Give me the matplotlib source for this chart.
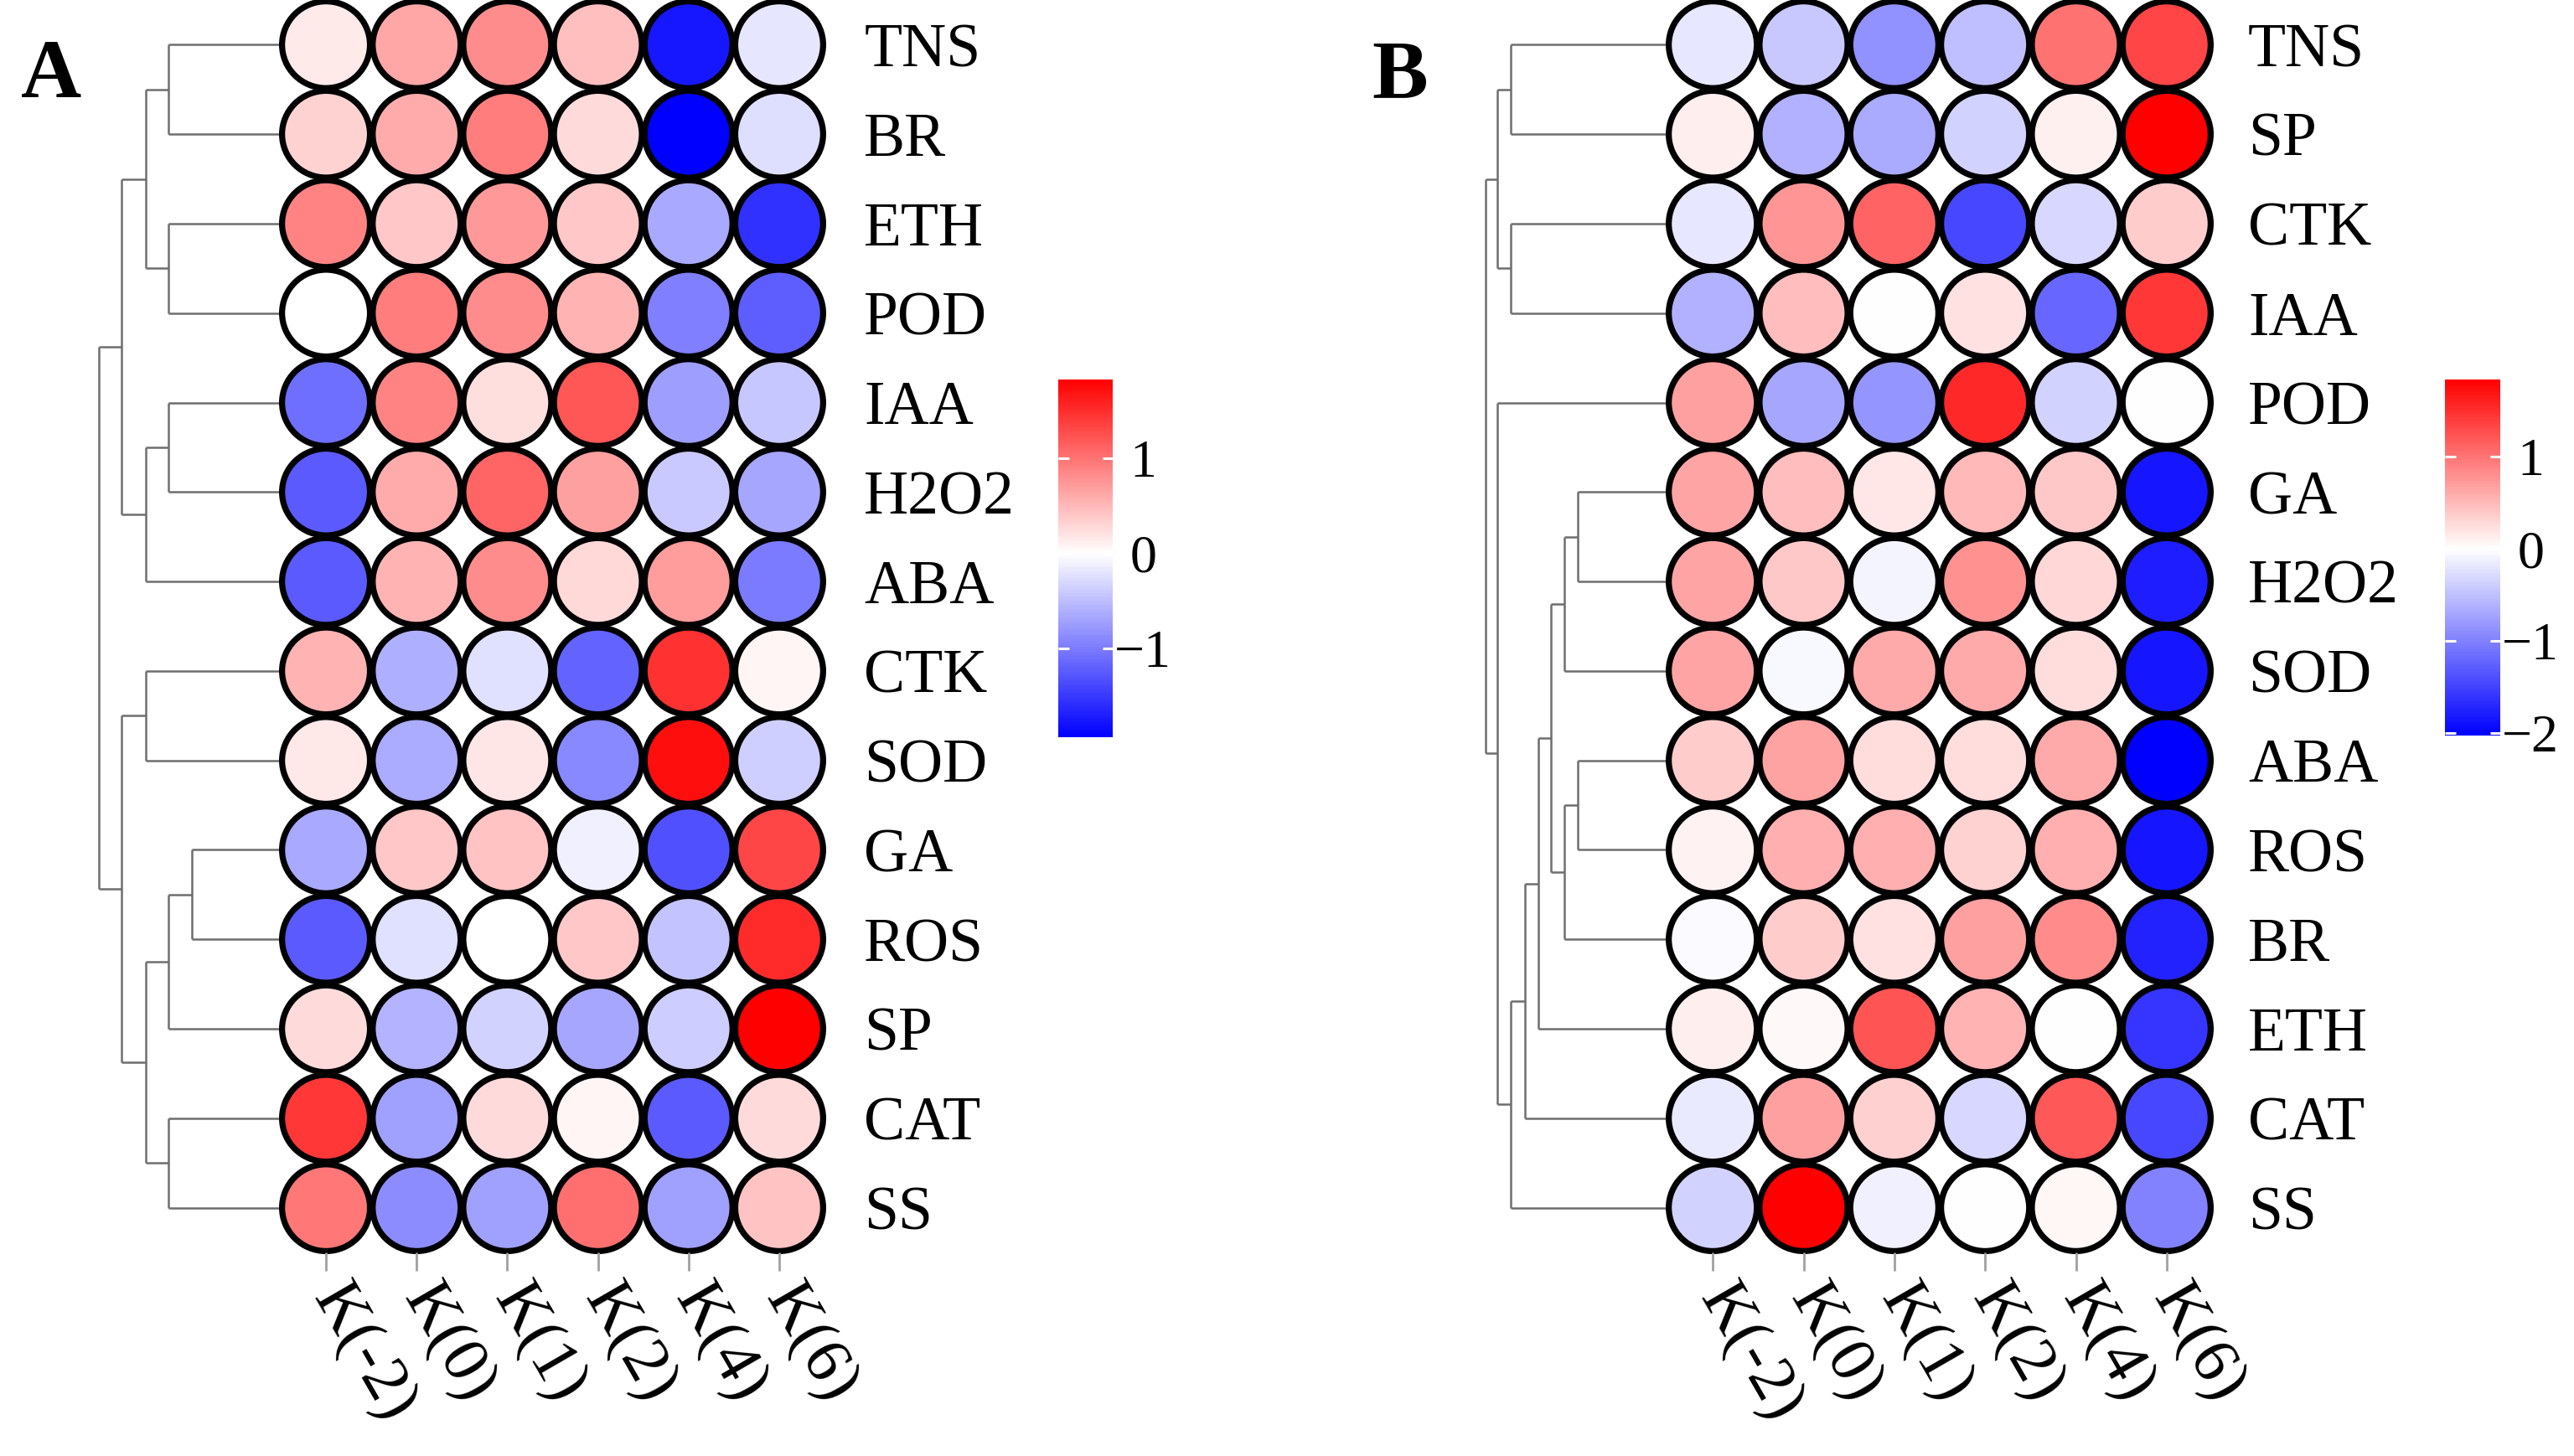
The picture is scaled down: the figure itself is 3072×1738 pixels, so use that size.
import numpy as np
import matplotlib
matplotlib.use('Agg')
import matplotlib.pyplot as plt
from matplotlib.patches import Ellipse
from matplotlib.colors import LinearSegmentedColormap, Normalize
from matplotlib.cm import ScalarMappable

plt.rcParams['font.family'] = ['Liberation Serif', 'DejaVu Serif']

# ---------------- data ----------------
columns = ['K(-2)', 'K(0)', 'K(1)', 'K(2)', 'K(4)', 'K(6)']

rows_a = ['TNS', 'BR', 'ETH', 'POD', 'IAA', 'H2O2', 'ABA',
          'CTK', 'SOD', 'GA', 'ROS', 'SP', 'CAT', 'SS']
values_a = [
    [0.15, 0.64, 0.82, 0.46, -1.75, -0.19],
    [0.33, 0.60, 0.92, 0.27, -1.93, -0.25],
    [0.88, 0.40, 0.73, 0.40, -0.64, -1.55],
    [0.00, 0.92, 0.82, 0.55, -0.97, -1.22],
    [-1.08, 0.88, 0.24, 1.21, -0.74, -0.42],
    [-1.25, 0.61, 1.11, 0.68, -0.41, -0.68],
    [-1.25, 0.54, 0.82, 0.28, 0.70, -1.00],
    [0.54, -0.60, -0.23, -1.17, 1.47, 0.07],
    [0.17, -0.63, 0.18, -0.90, 1.72, -0.37],
    [-0.64, 0.40, 0.43, -0.11, -1.32, 1.33],
    [-1.25, -0.23, 0.00, 0.40, -0.45, 1.51],
    [0.27, -0.57, -0.33, -0.68, -0.38, 1.83],
    [1.43, -0.72, 0.27, 0.07, -1.25, 0.27],
    [0.97, -0.87, -0.72, 1.03, -0.72, 0.43],
]
# dendrogram merges (child, child, height); leaves 0..13, new nodes from 14
merges_a = [
    (0, 1, 1.33), (2, 3, 1.33), (14, 15, 1.60),
    (4, 5, 1.33), (17, 6, 1.60), (16, 18, 1.88),
    (7, 8, 1.60), (9, 10, 1.05), (21, 11, 1.33),
    (12, 13, 1.33), (22, 23, 1.60), (20, 24, 1.88),
    (19, 25, 2.15),
]
ticks_a = [1, 0, -1]

rows_b = ['TNS', 'SP', 'CTK', 'IAA', 'POD', 'GA', 'H2O2',
          'SOD', 'ABA', 'ROS', 'BR', 'ETH', 'CAT', 'SS']
values_b = [
    [-0.20, -0.44, -0.87, -0.51, 1.01, 1.34],
    [0.12, -0.61, -0.68, -0.36, 0.11, 1.84],
    [-0.20, 0.76, 1.12, -1.47, -0.32, 0.36],
    [-0.61, 0.47, 0.00, 0.22, -1.20, 1.44],
    [0.69, -0.71, -0.84, 1.55, -0.36, 0.00],
    [0.65, 0.47, 0.17, 0.50, 0.40, -1.85],
    [0.65, 0.40, -0.08, 0.79, 0.29, -1.80],
    [0.65, -0.06, 0.61, 0.61, 0.25, -1.85],
    [0.36, 0.67, 0.24, 0.24, 0.61, -2.03],
    [0.09, 0.58, 0.58, 0.32, 0.58, -1.85],
    [-0.04, 0.36, 0.22, 0.69, 0.83, -1.75],
    [0.12, 0.05, 1.23, 0.54, 0.00, -1.60],
    [-0.16, 0.69, 0.34, -0.32, 1.20, -1.47],
    [-0.36, 1.84, -0.12, 0.00, 0.07, -1.00],
]
merges_b = [
    (0, 1, 1.84), (2, 3, 1.84), (14, 15, 2.00),
    (5, 6, 1.06), (17, 7, 1.21), (8, 9, 1.06), (19, 10, 1.21),
    (18, 20, 1.37), (21, 11, 1.52), (22, 12, 1.68), (23, 13, 1.84),
    (4, 24, 2.00), (16, 25, 2.14),
]
ticks_b = [1, 0, -1, -2]

# ---------------- layout ----------------
W, H = 3072, 1738
fig = plt.figure(figsize=(W / 100, H / 100), dpi=100)
HEAT_BOTTOM = 1495


def box(x0, y0, x1, y1):
    return [x0 / W, 1 - y1 / H, (x1 - x0) / W, (y1 - y0) / H]


def make_cmap(vmin, vmax):
    w = (0 - vmin) / (vmax - vmin)
    return LinearSegmentedColormap.from_list(
        'bwr_mid', [(0, '#0000FF'), (w, '#FFFFFF'), (1, '#FF0000')])


def draw_dendro(ax, merges, n):
    ypos = {i: float(i) for i in range(n)}
    hts = {i: 0.0 for i in range(n)}
    node = n
    for a, b, h in merges:
        for c in (a, b):
            ax.plot([hts[c], h], [ypos[c], ypos[c]], color='#6e6e6e',
                    lw=1.8, solid_capstyle='butt', clip_on=False)
        ax.plot([h, h], [ypos[a], ypos[b]], color='#6e6e6e', lw=1.8,
                solid_capstyle='butt', clip_on=False)
        ypos[node] = (ypos[a] + ypos[b]) / 2
        hts[node] = h
        node += 1
    ax.set_xlim(merges[-1][2], 0)
    ax.set_ylim(n - 0.5, -0.5)
    ax.axis('off')


def panel(letter, letter_x, rows, values, merges, ticks,
          dx0, hx0, hx1, cbx0, cbx1, cby0, cby1, label_pad):
    vals = np.array(values)
    vmin, vmax = vals.min(), vals.max()
    cmap = make_cmap(vmin, vmax)
    norm = Normalize(vmin=vmin, vmax=vmax)
    n = len(rows)

    axd = fig.add_axes(box(dx0, 0, hx0, HEAT_BOTTOM))
    draw_dendro(axd, merges, n)

    ax = fig.add_axes(box(hx0, 0, hx1, HEAT_BOTTOM))
    for i in range(n):
        for j in range(len(columns)):
            ax.add_patch(Ellipse((j, i), 0.97, 0.97,
                                 facecolor=cmap(norm(vals[i, j])),
                                 edgecolor='black', lw=5.2, clip_on=False))
    ax.set_xlim(-0.5, len(columns) - 0.5)
    ax.set_ylim(n - 0.5, -0.5)
    for s in ax.spines.values():
        s.set_visible(False)
    ax.set_yticks(range(n))
    ax.set_yticklabels(rows, fontsize=53)
    ax.yaxis.tick_right()
    ax.tick_params(axis='y', length=0, pad=label_pad)
    ax.set_xticks(range(len(columns)))
    ax.set_xticklabels(columns, fontsize=57)
    ax.tick_params(axis='x', length=16, width=2, color='#a0a0a0', pad=16)
    plt.setp(ax.get_xticklabels(), rotation=-60, ha='left', va='center',
             rotation_mode='anchor')

    cax = fig.add_axes(box(cbx0, cby0, cbx1, cby1))
    cb = fig.colorbar(ScalarMappable(norm=norm, cmap=cmap), cax=cax)
    cb.outline.set_visible(False)
    cb.set_ticks(ticks)
    cb.set_ticklabels(['\u2212%d' % abs(t) if t < 0 else '%d' % t for t in ticks])
    cax.tick_params(axis='y', direction='in', left=True, right=True,
                    color='white', length=9, width=2.2, labelsize=46, pad=26)
    for lab in cax.get_yticklabels():
        lab.set_ha('center')

    fig.text(letter_x / W, 1 - 92 / H, letter, fontsize=72,
             fontweight='bold', ha='center', va='center')


panel('A', 61, rows_a, values_a, merges_a, ticks_a,
      118, 335, 984, 1263, 1328, 453, 880, 34)
panel('B', 1671, rows_b, values_b, merges_b, ticks_b,
      1773, 1990, 2640, 2918, 2984, 453, 878, 31)

fig.savefig('out.png', dpi=100)
